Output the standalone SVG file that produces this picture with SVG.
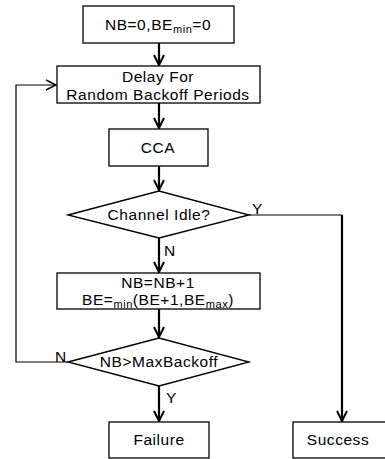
<svg xmlns="http://www.w3.org/2000/svg" width="385" height="459" viewBox="0 0 385 459">
<style>
.box{fill:#fff;stroke:#000;stroke-width:1.3}
.t{font-family:"Liberation Sans",Arial,sans-serif;font-size:15.5px;letter-spacing:0.55px;fill:#000;text-anchor:middle}
.l{font-family:"Liberation Sans",Arial,sans-serif;font-size:15.5px;fill:#000}
.thick{fill:none;stroke:#000;stroke-width:2.2}
.thin{fill:none;stroke:#000;stroke-width:1.2}
</style>
<defs>
<marker id="ah" viewBox="0 0 12 12" refX="11" refY="6" markerWidth="12" markerHeight="12" markerUnits="userSpaceOnUse" orient="auto">
<path d="M1,1 L11,6 L1,11" fill="none" stroke="#000" stroke-width="2"/>
</marker>
<marker id="ahs" viewBox="0 0 12 12" refX="11" refY="6" markerWidth="12" markerHeight="12" markerUnits="userSpaceOnUse" orient="auto">
<path d="M1,1 L11,6 L1,11" fill="none" stroke="#000" stroke-width="1.4"/>
</marker>
</defs>
<rect width="385" height="459" fill="#fff"/>
<g id="connectors">
<path class="thick" d="M159,43 V65" marker-end="url(#ah)"/>
<path class="thick" d="M159,103 V128" marker-end="url(#ah)"/>
<path class="thick" d="M159,166 V190" marker-end="url(#ah)"/>
<path class="thick" d="M159,238 V272" marker-end="url(#ah)"/>
<path class="thick" d="M159,309 V337" marker-end="url(#ah)"/>
<path class="thick" d="M159,386 V421" marker-end="url(#ah)"/>
<path class="thin" d="M249,215 H342"/>
<path class="thick" d="M342,215 V421" marker-end="url(#ah)"/>
<path class="thin" d="M68,362 H16 V85 H56" marker-end="url(#ahs)"/>
<text class="l" x="252" y="214">Y</text>
<text class="l" x="164" y="256">N</text>
<text class="l" x="55" y="362">N</text>
<text class="l" x="166" y="403">Y</text>
</g>
<g id="n1">
<rect class="box" x="83" y="6" width="151" height="37"/>
<text class="t" x="158" y="30">NB=0,BE<tspan font-size="11" dy="3">min</tspan><tspan dy="-3">=0</tspan></text>
</g>
<g id="n2">
<rect class="box" x="57" y="66" width="203" height="37"/>
<text class="t" x="158" y="82">Delay For</text>
<text class="t" x="158" y="100">Random Backoff Periods</text>
</g>
<g id="n3">
<rect class="box" x="109" y="129" width="99" height="37"/>
<text class="t" x="158" y="153">CCA</text>
</g>
<g id="n4">
<polygon class="box" points="68,215 159,191 249,215 159,238"/>
<text class="t" x="159" y="220">Channel Idle?</text>
</g>
<g id="n5">
<rect class="box" x="57" y="273" width="203" height="36"/>
<text class="t" x="158" y="288">NB=NB+1</text>
<text class="t" x="158" y="305">BE=<tspan font-size="11" dy="3">min</tspan><tspan dy="-3">(BE+1,BE</tspan><tspan font-size="11" dy="3">max</tspan><tspan dy="-3">)</tspan></text>
</g>
<g id="n6">
<polygon class="box" points="68,362 159,338 249,362 159,386"/>
<text class="t" x="159" y="367">NB&gt;MaxBackoff</text>
</g>
<g id="n7">
<rect class="box" x="109" y="422" width="100" height="36"/>
<text class="t" x="159" y="445">Failure</text>
</g>
<g id="n8">
<rect class="box" x="293" y="422" width="94" height="36"/>
<text class="t" x="338" y="445">Success</text>
</g>
</svg>
